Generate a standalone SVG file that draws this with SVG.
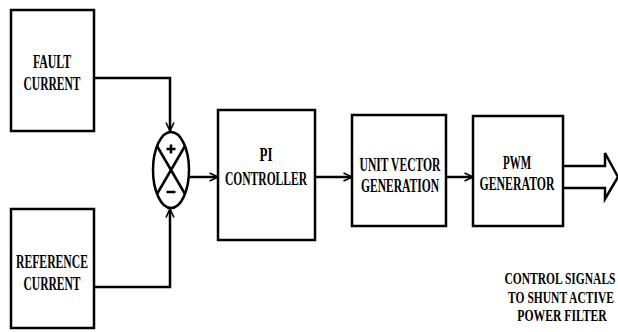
<svg xmlns="http://www.w3.org/2000/svg" width="618" height="332" viewBox="0 0 618 332">
<style>
.box{fill:#fff;stroke:#000;stroke-width:2.5}
.ln{fill:none;stroke:#000;stroke-width:2.5}
.t{font-family:"Liberation Serif","DejaVu Serif","Times New Roman",serif;font-weight:bold;font-size:18.5px;text-anchor:middle;fill:#000}
.s{font-family:"Liberation Serif","DejaVu Serif","Times New Roman",serif;font-weight:bold;font-size:16px;text-anchor:middle;fill:#000}
</style>
<defs>
<marker id="arr" viewBox="0 0 10 10" refX="9.5" refY="5" markerWidth="4" markerHeight="4" orient="auto" markerUnits="strokeWidth">
<path d="M1,1 L9.5,5 L1,9" fill="none" stroke="#000" stroke-width="1.6"/>
</marker>
</defs>
<rect width="618" height="332" fill="#fff"/>
<g id="connectors">
<polyline class="ln" points="94,78 170,78 170,131" marker-end="url(#arr)"/>
<polyline class="ln" points="94,287 170,287 170,209" marker-end="url(#arr)"/>
<line class="ln" x1="189" y1="177" x2="218" y2="177" marker-end="url(#arr)"/>
<line class="ln" x1="315" y1="177" x2="352" y2="177" marker-end="url(#arr)"/>
<line class="ln" x1="446" y1="177" x2="473" y2="177" marker-end="url(#arr)"/>
<path class="ln" d="M563,166 L605,166 L605,153 L618,177 L605,199 L605,188 L563,188"/>
</g>
<g id="fault-current">
<rect class="box" x="11" y="10" width="83" height="121"/>
<text class="t" x="52" y="68" textLength="38" lengthAdjust="spacingAndGlyphs">FAULT</text>
<text class="t" x="52" y="90" textLength="57" lengthAdjust="spacingAndGlyphs">CURRENT</text>
</g>
<g id="reference-current">
<rect class="box" x="11" y="209" width="83" height="119"/>
<text class="t" x="52" y="268" textLength="72" lengthAdjust="spacingAndGlyphs">REFERENCE</text>
<text class="t" x="52" y="290" textLength="57" lengthAdjust="spacingAndGlyphs">CURRENT</text>
</g>
<g id="summer">
<ellipse class="box" cx="171" cy="170" rx="18" ry="38"/>
<line class="ln" x1="157" y1="146" x2="185" y2="194"/>
<line class="ln" x1="185" y1="146" x2="157" y2="194"/>
<path class="ln" d="M166.5,149 H175.5 M171,144.5 V153.5"/>
<path class="ln" d="M166.5,192 H175.5"/>
</g>
<g id="pi-controller">
<rect class="box" x="218" y="110" width="97" height="130"/>
<text class="t" x="266" y="161" textLength="13" lengthAdjust="spacingAndGlyphs">PI</text>
<text class="t" x="266" y="185" textLength="82" lengthAdjust="spacingAndGlyphs">CONTROLLER</text>
</g>
<g id="unit-vector">
<rect class="box" x="352" y="115" width="94" height="111"/>
<text class="t" x="400" y="171" textLength="81" lengthAdjust="spacingAndGlyphs">UNIT VECTOR</text>
<text class="t" x="400" y="192" textLength="78" lengthAdjust="spacingAndGlyphs">GENERATION</text>
</g>
<g id="pwm-generator">
<rect class="box" x="473" y="116" width="90" height="110"/>
<text class="t" x="517" y="169" textLength="28" lengthAdjust="spacingAndGlyphs">PWM</text>
<text class="t" x="517" y="190" textLength="75" lengthAdjust="spacingAndGlyphs">GENERATOR</text>
</g>
<g id="output-label">
<text class="s" transform="translate(560,284) scale(0.72,1)">CONTROL SIGNALS</text>
<text class="s" transform="translate(561,302.5) scale(0.72,1)">TO SHUNT ACTIVE</text>
<text class="s" transform="translate(562,321) scale(0.73,1)">POWER FILTER</text>
</g>
</svg>
